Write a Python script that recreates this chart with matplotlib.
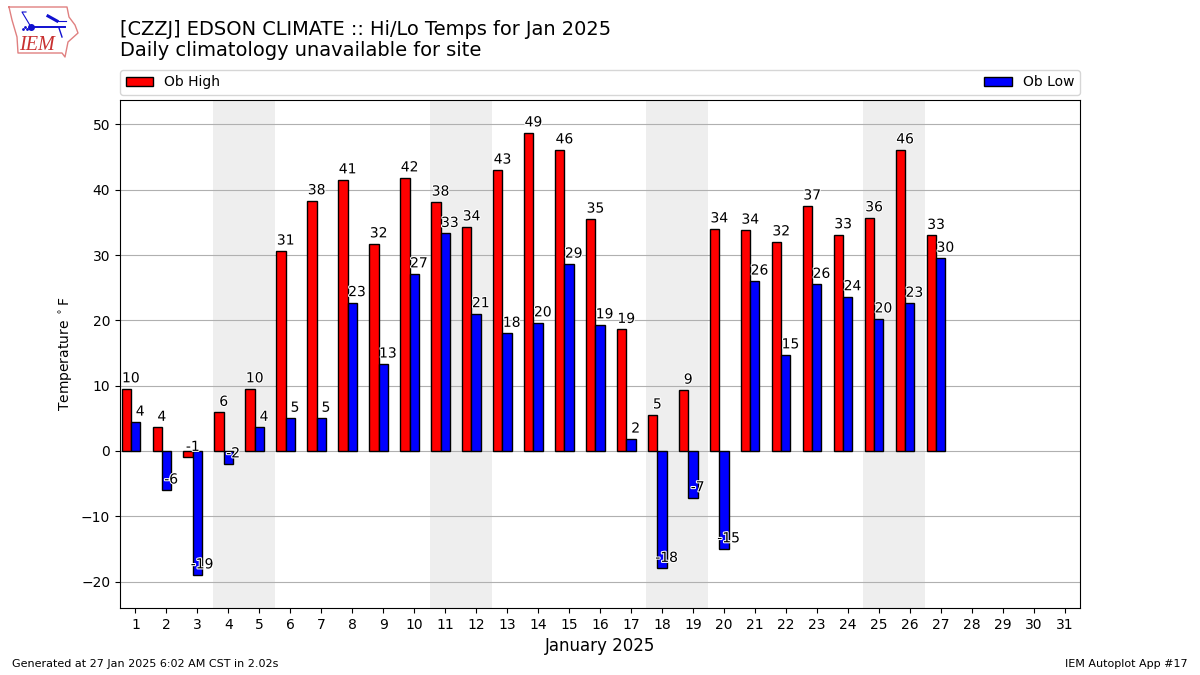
import matplotlib
matplotlib.use("Agg")
import matplotlib.pyplot as plt
import matplotlib.patheffects as PathEffects

days = list(range(1, 28))
highs = [9.5, 3.6, -1.0, 5.9, 9.5, 30.6, 38.3, 41.5, 31.7, 41.8, 38.1, 34.3, 43.0, 48.7, 46.1, 35.5, 18.6, 5.5, 9.3, 34.0, 33.8, 32.0, 37.5, 33.1, 35.7, 46.1, 33.0]
lows = [4.4, -6.0, -19.0, -2.0, 3.6, 5.0, 5.0, 22.7, 13.3, 27.1, 33.3, 21.0, 18.0, 19.6, 28.6, 19.3, 1.8, -18.0, -7.2, -15.0, 26.0, 14.7, 25.5, 23.6, 20.2, 22.6, 29.5]
high_labels = [10, 4, -1, 6, 10, 31, 38, 41, 32, 42, 38, 34, 43, 49, 46, 35, 19, 5, 9, 34, 34, 32, 37, 33, 36, 46, 33]
low_labels = [4, -6, -19, -2, 4, 5, 5, 23, 13, 27, 33, 21, 18, 20, 29, 19, 2, -18, -7, -15, 26, 15, 26, 24, 20, 23, 30]
weekends = [(3.5, 5.5), (10.5, 12.5), (17.5, 19.5), (24.5, 26.5)]

fig = plt.figure(figsize=(12, 6.75), dpi=100)
ax = fig.add_axes([0.1, 0.0993, 0.8, 0.7526])

for start, end in weekends:
  ax.axvspan(start, end, color="#eeeeee", lw=0, zorder=0)

red_x = [day - 0.3 for day in days]
ax.bar(red_x, highs, width=0.3, color="r", edgecolor="k", label="Ob High", zorder=2)
ax.bar(days, lows, width=0.3, color="b", edgecolor="k", label="Ob Low", zorder=2)

white = [PathEffects.withStroke(linewidth=1.5, foreground="white")]
for day, high, text in zip(days, highs, high_labels):
  ax.text(day - 0.15, high + 0.55, str(text), ha="center", va="bottom", fontsize=10, path_effects=white, zorder=3)
for day, low, text in zip(days, lows, low_labels):
  ax.text(day + 0.15, low + 0.55, str(text), ha="center", va="bottom", fontsize=10, path_effects=white, zorder=3)

ax.set_xlim(0.5, 31.5)
ax.set_ylim(-24.05, 53.75)
ax.set_xticks(range(1, 32))
ax.set_yticks(range(-20, 60, 10))
ax.yaxis.grid(True, color="#b0b0b0")
ax.set_axisbelow(True)
ax.set_ylabel(r"Temperature $^\circ$F")
ax.set_xlabel("January 2025", fontsize=12)
ax.legend(ncol=2, mode="expand", loc="lower left", bbox_to_anchor=(0, 1.01, 1, 0.05), borderaxespad=0)

fig.text(0.1, 0.9560, "[CZZJ] EDSON CLIMATE :: Hi/Lo Temps for Jan 2025", fontsize=13.97, va="center")
fig.text(0.1, 0.9245, "Daily climatology unavailable for site", fontsize=13.97, va="center")
fig.text(0.01, 0.0125, "Generated at 27 Jan 2025 6:02 AM CST in 2.02s", fontsize=8)
fig.text(0.99, 0.0125, "IEM Autoplot App #17", fontsize=8, ha="right")

# logo, in pixels of the picture
logo = fig.add_axes([0, 0, 1, 1], facecolor="none")
logo.set_xlim(0, 1200)
logo.set_ylim(675, 0)
logo.axis("off")
logo.plot([9, 67, 69, 75, 78, 68, 65, 62, 18, 17, 12, 9], [7, 7, 17, 25, 33, 42, 57, 53, 53, 37, 20, 7], color="#e08080", lw=1)
logo.plot([31, 65], [27, 27], color="#1010d0", lw=1.4)
logo.plot([31, 22, 26], [27, 12, 12], color="#1010d0", lw=0.8)
logo.plot([48, 57], [16, 21], color="#1010d0", lw=2.2)
logo.plot([57, 66], [21, 21], color="#1010d0", lw=0.8)
logo.plot([59, 62], [28, 37], color="#1010d0", lw=1)
logo.plot([31], [27], "o", color="#1010d0", ms=4)
logo.plot([23, 25, 27], [29, 27, 29], ".", color="#1010d0", ms=2)
logo.text(37, 45, "IEM", color="#c83030", family="Liberation Serif", style="italic", fontsize=14.5, ha="center", va="center")

fig.savefig("out.png")
